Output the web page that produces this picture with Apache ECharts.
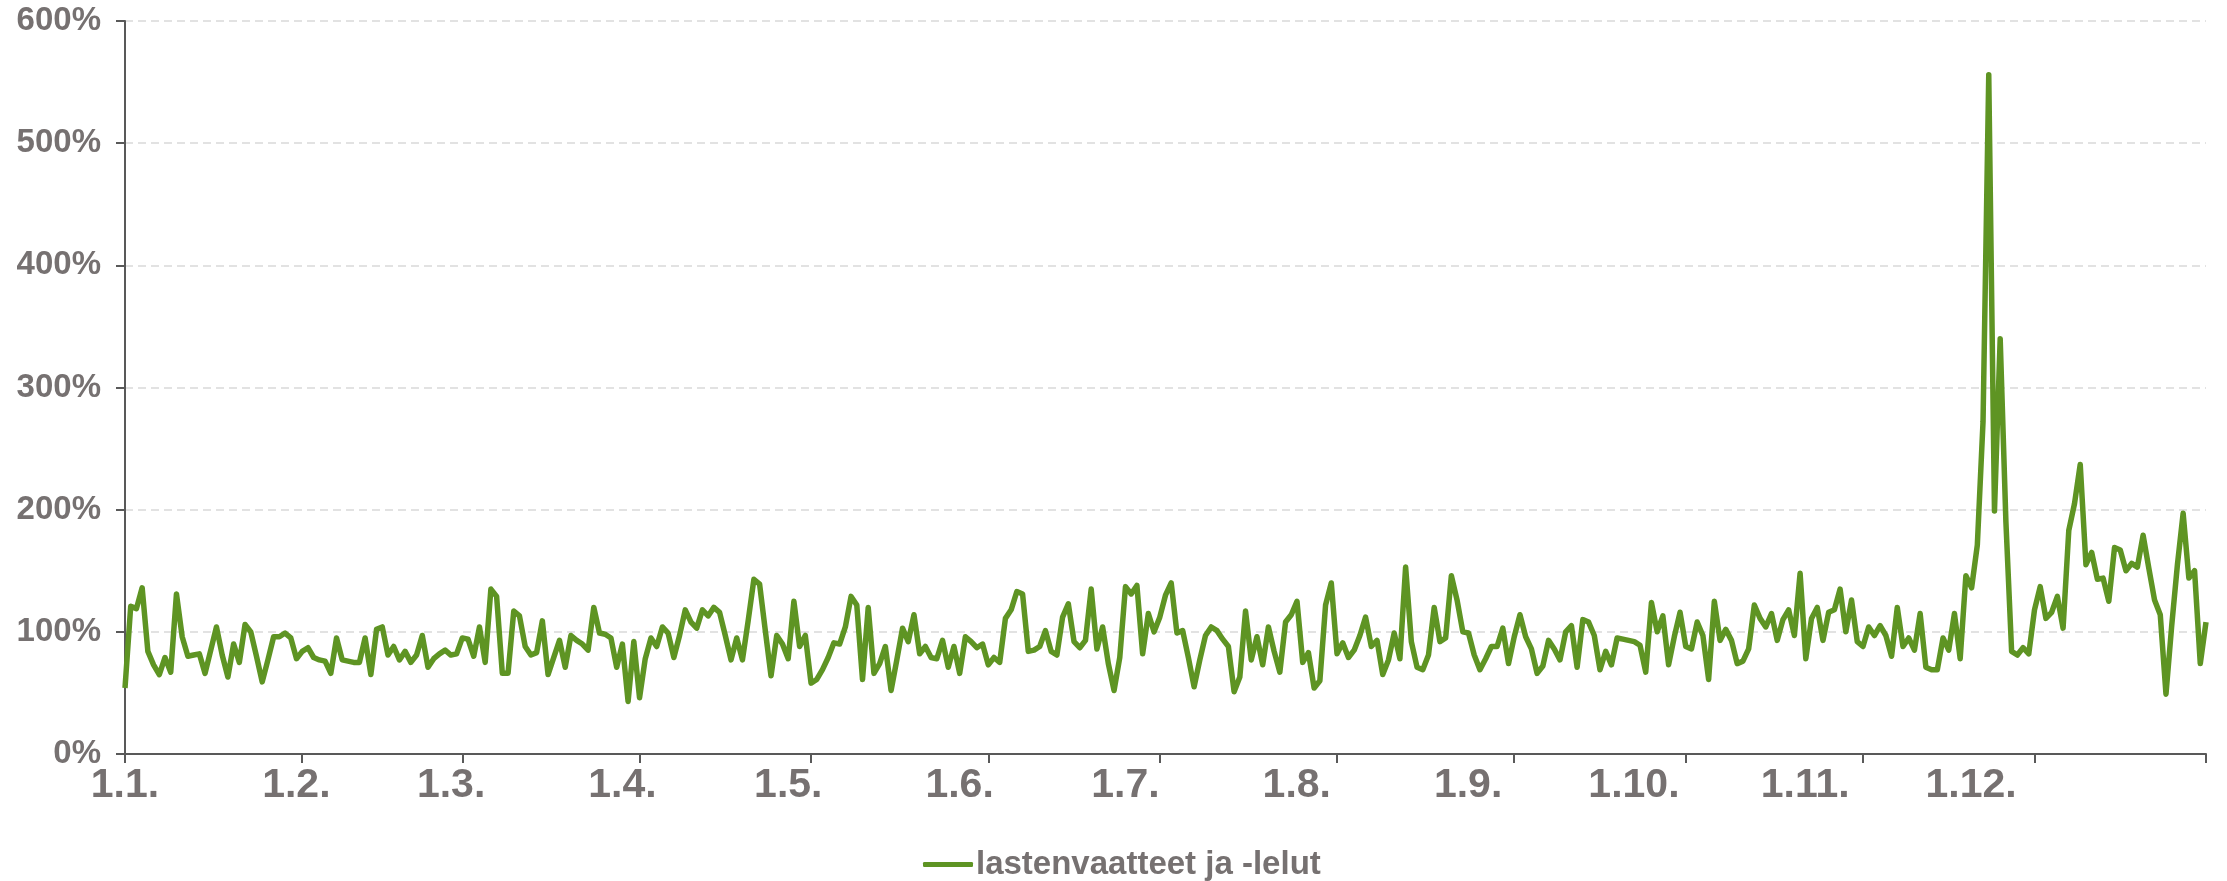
<!DOCTYPE html>
<html>
<head>
<meta charset="utf-8">
<script src="https://cdn.jsdelivr.net/npm/echarts@6/dist/echarts.min.js"></script>
<style>
  html, body { margin: 0; padding: 0; background: #ffffff; }
  #chart { width: 2227px; height: 881px; }
</style>
</head>
<body>
<div id="chart"></div>
<script>
// päivittäiset arvot (%), kuukausittain
const jan = [54, 121, 119, 136, 84, 73, 65, 79, 67, 131, 96, 80, 81, 82, 66, 85, 104, 81, 63, 90, 75, 106, 100, 80, 59, 77, 96, 96, 99, 95, 78];
const feb = [84, 87, 79, 77, 76, 66, 95, 77, 76, 75, 75, 95, 65, 102, 104, 81, 88, 77, 84, 75, 81, 97, 71, 78, 82, 85, 81, 82];
const mar = [95, 94, 80, 104, 75, 135, 129, 66, 66, 117, 113, 88, 81, 83, 109, 65, 79, 93, 71, 97, 93, 90, 85, 120, 99, 98, 95, 71, 90, 43, 92];
const apr = [46, 78, 95, 88, 104, 99, 79, 97, 118, 108, 103, 118, 113, 120, 116, 97, 77, 95, 77, 109, 143, 139, 101, 64, 97, 90, 78, 125, 88, 97];
const may = [58, 61, 69, 79, 91, 90, 104, 129, 122, 61, 120, 66, 74, 88, 52, 77, 103, 92, 114, 82, 88, 79, 78, 93, 71, 88, 66, 96, 92, 87, 90];
const jun = [73, 79, 75, 111, 118, 133, 131, 84, 85, 88, 101, 84, 81, 112, 123, 92, 87, 93, 135, 86, 104, 74, 52, 79, 137, 131, 138, 82, 115, 100];
const jul = [112, 130, 140, 99, 101, 79, 55, 77, 97, 104, 101, 94, 88, 51, 63, 117, 77, 96, 73, 104, 84, 67, 108, 114, 125, 75, 83, 54, 60, 122, 140];
const aug = [82, 91, 79, 85, 97, 112, 88, 93, 65, 77, 99, 78, 153, 92, 71, 69, 81, 120, 92, 95, 146, 126, 100, 99, 81, 69, 78, 88, 88, 103, 74];
const sep = [96, 114, 96, 86, 66, 72, 93, 86, 77, 100, 105, 71, 110, 108, 97, 69, 84, 73, 95, 94, 93, 92, 89, 67, 124, 100, 113, 73, 96, 116];
const oct = [88, 86, 108, 97, 61, 125, 93, 102, 93, 74, 76, 86, 122, 111, 104, 115, 93, 110, 118, 97, 148, 78, 111, 120, 93, 116, 118, 135, 100, 126, 92];
const nov = [88, 104, 97, 105, 97, 80, 120, 88, 95, 85, 115, 71, 69, 69, 95, 85, 115, 78, 146, 136, 171, 272, 556, 199, 340, 190, 84, 81, 87, 82];
const dec = [118, 137, 111, 116, 129, 103, 183, 205, 237, 155, 165, 143, 144, 125, 169, 167, 150, 156, 153, 179, 152, 126, 114, 49, 105, 155, 197, 144, 150, 74, 108];

const months = [jan, feb, mar, apr, may, jun, jul, aug, sep, oct, nov, dec];
const monthLabels = ['1.1.', '1.2.', '1.3.', '1.4.', '1.5.', '1.6.', '1.7.', '1.8.', '1.9.', '1.10.', '1.11.', '1.12.'];
const yTicks = [0, 100, 200, 300, 400, 500, 600];
const seriesName = 'lastenvaatteet ja -lelut';

// päivämäärät muotoa d.m. ja kuukausien alkupäivät
const days = [];
const values = [];
const monthStarts = [];
months.forEach((list, m) => {
  monthStarts.push(days.length);
  list.forEach((v, d) => {
    days.push((d + 1) + '.' + (m + 1) + '.');
    values.push(v);
  });
});

// alkuperäisessä kuvassa tekstit ovat hieman tiiviimmin kuin tikit
const labelAxisMax = 376.5;

const grey = '#767171';
const font = 'Liberation Sans, Arial, sans-serif';

const chart = echarts.init(document.getElementById('chart'));

const option = {
  backgroundColor: '#ffffff',
  animation: false,
  grid: {
    left: 125,
    right: 21,
    top: 21,
    bottom: 127,
    containLabel: false,
    outerBoundsMode: 'none'
  },
  legend: {
    data: [seriesName],
    left: 918,
    top: 843,
    icon: 'roundRect',
    itemWidth: 50,
    itemHeight: 5,
    itemGap: 4,
    textStyle: {
      color: grey,
      fontSize: 33,
      fontWeight: 'bold',
      fontFamily: font,
      padding: [0, 0, 0, -2]
    }
  },
  xAxis: [{
    type: 'category',
    boundaryGap: false,
    data: days,
    axisLine: { lineStyle: { color: '#595959', width: 2 } },
    axisTick: {
      length: 9,
      lineStyle: { color: '#595959', width: 2 },
      interval: (i) => monthStarts.indexOf(i) >= 0 || i === days.length - 1
    },
    axisLabel: { show: false },
    splitLine: { show: false }
  }, {
    type: 'value',
    position: 'bottom',
    min: 0,
    max: labelAxisMax,
    axisLine: { show: false },
    axisTick: { show: false },
    splitLine: { show: false },
    axisLabel: {
      customValues: monthStarts,
      formatter: (v) => monthLabels[monthStarts.indexOf(Math.round(v))] || '',
      hideOverlap: false,
      color: grey,
      fontSize: 41,
      fontWeight: 'bold',
      fontFamily: font,
      margin: 11
    }
  }],
  yAxis: {
    type: 'value',
    min: yTicks[0],
    max: yTicks[yTicks.length - 1],
    interval: 100,
    axisLine: { show: true, lineStyle: { color: '#595959', width: 2 } },
    axisTick: { show: true, length: 9, lineStyle: { color: '#595959', width: 2 } },
    axisLabel: {
      formatter: '{value}%',
      color: grey,
      fontSize: 33,
      fontWeight: 'bold',
      fontFamily: font,
      margin: 24
    },
    splitLine: {
      lineStyle: { color: '#d9d9d9', width: 1.5, type: [8, 5] }
    }
  },
  series: [{
    name: seriesName,
    type: 'line',
    xAxisIndex: 0,
    data: values,
    showSymbol: false,
    symbol: 'none',
    lineStyle: { color: '#5e9423', width: 5.5, join: 'round' },
    itemStyle: { color: '#5e9423' }
  }]
};

chart.setOption(option);
</script>
</body>
</html>
